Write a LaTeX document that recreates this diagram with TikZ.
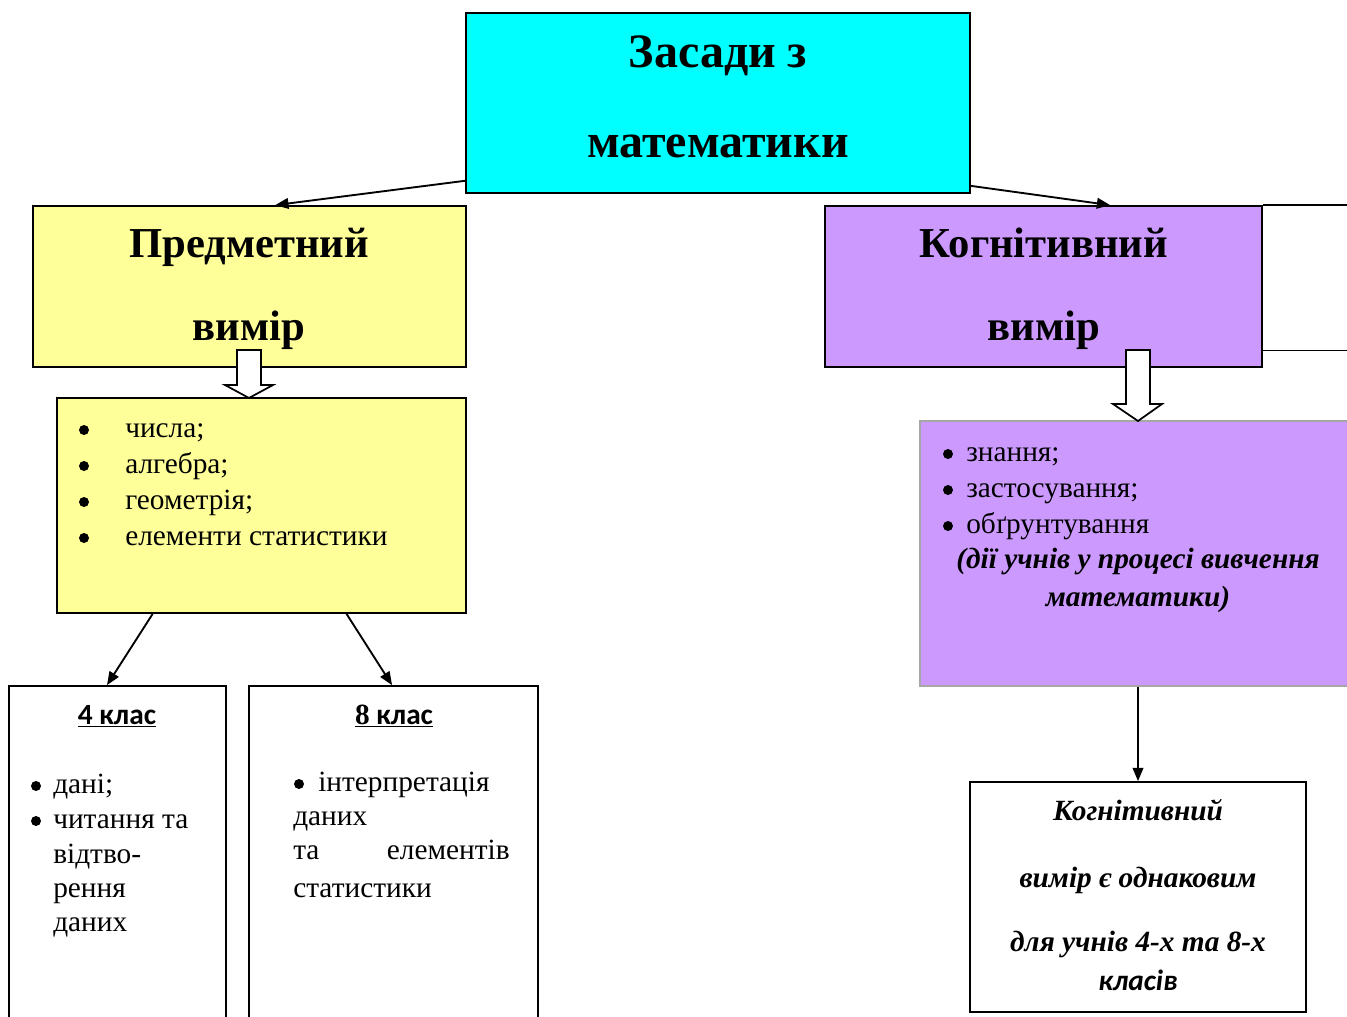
\documentclass[tikz,border=0pt]{standalone}
\usepackage{fontspec}
\setmainfont{Liberation Serif}
\newfontfamily\sansf{Carlito}
\usetikzlibrary{arrows.meta,calc}
\definecolor{cyanbox}{HTML}{00FFFF}
\definecolor{yelbox}{HTML}{FFFF99}
\definecolor{purbox}{HTML}{CC99FF}
\definecolor{grayedge}{HTML}{A6A6A6}
\tikzset{
  box/.style={draw=black, line width=1.3pt, inner sep=0pt},
  arr/.style={line width=1.4pt, -{Triangle[length=10pt,width=8pt]}},
  blockarrow/.style={draw=black, fill=white, line width=1.3pt, line join=miter},
  ttl/.style={font=\fontsize{36}{40}\selectfont\bfseries, inner sep=0pt, anchor=mid},
  hdr/.style={font=\fontsize{32}{36}\selectfont\bfseries, inner sep=0pt, anchor=mid},
  body/.style={font=\fontsize{22}{26}\selectfont, inner sep=0pt, anchor=mid west},
  bul/.style={circle, fill=black, inner sep=0pt, minimum size=7.5pt},
  bi/.style={font=\fontsize{22}{26}\selectfont\bfseries\itshape, inner sep=0pt, anchor=mid},
  cls/.style={font=\fontsize{22}{26}\selectfont\sansf\bfseries, inner sep=0pt, anchor=mid},
}
\begin{document}
\begin{tikzpicture}[x=0.75pt,y=-0.75pt]
\clip (0,0) rectangle (1347,1017);
\fill[white] (0,0) rectangle (1347,1017);

% boxes
\node[box, fill=cyanbox, minimum width=378pt, minimum height=135pt] (top) at (718,103) {};
\node[box, fill=yelbox, minimum width=324.75pt, minimum height=120.75pt] (yel1) at (249.5,286.5) {};
\node[box, fill=purbox, minimum width=327.75pt, minimum height=120.75pt] (pur1) at (1043.5,286.5) {};
\node[box, fill=yelbox, minimum width=306.75pt, minimum height=161.25pt] (yel2) at (261.5,505.5) {};
\node[box, minimum width=162.75pt, minimum height=265.5pt] (k4) at (117.5,863) {};
\node[box, minimum width=216.75pt, minimum height=265.5pt] (k8) at (393.5,863) {};
\node[draw=grayedge, line width=1.2pt, fill=purbox, inner sep=0pt, minimum width=337.5pt, minimum height=198.75pt] (pur2) at (1145,553.5) {};
\node[box, minimum width=252pt, minimum height=172.5pt] (cog) at (1138,897) {};

% partial box edges on the right
\draw[line width=1.3pt] (pur1.north east) -- ++(100,0);
\draw[line width=1.3pt] ($(pur1.north east)!0.894!(pur1.south east)$) -- ++(100,0);

% connectors
\draw[arr] ($(top.south west)!0.072!(top.north west)$) -- ($(yel1.north west)!0.559!(yel1.north east)$);
\draw[arr] ($(top.south east)!0.044!(top.north east)$) -- ($(pur1.north west)!0.652!(pur1.north east)$);
\draw[arr] ($(yel2.south west)!0.235!(yel2.south east)$) -- ($(k4.north west)!0.452!(k4.north east)$);
\draw[arr] ($(yel2.south west)!0.707!(yel2.south east)$) -- ($(k8.north west)!0.495!(k8.north east)$);
\draw[arr] (cog.north |- pur2.south) -- (cog.north);

% block arrows
\draw[blockarrow] (237,350) -- (261,350) -- (261,385) -- (273,385) -- (249,398) -- (225,385) -- (237,385) -- cycle;
\draw[blockarrow] (1126,350) -- (1150,350) -- (1150,404) -- (1162,404) -- (1138,421) -- (1113,404) -- (1126,404) -- cycle;

% texts
\node[ttl] (t1) at (718,64) {Засади з};
\node[ttl] (t2) at (718,154) {математики};
\node[hdr] (h1) at (249,254) {Предметний};
\node[hdr] (h2) at (249,337) {вимір};
\node[hdr] (h3) at (1044,254) {Когнітивний};
\node[hdr] (h4) at (1044,337) {вимір};

\foreach \yy/\tx [count=\i] in {430/числа;, 466/алгебра;, 502/геометрія;, 538/елементи статистики}{
  \node[bul] (yb\i) at (84,\yy) {};
  \node[body] (yt\i) at (125,\yy+4) {\tx};
}

\node[cls] (c4) at (117,721) {\underline{4 клас}};
\node[cls] (c8) at (394,721) {\underline{{\rmfamily 8} клас}};
\node[bul] (b41) at (36,786) {};
\node[body] (t41) at (53,790) {дані;};
\node[bul] (b42) at (36,821) {};
\node[body] (t42) at (53,825) {читання та};
\node[body] (t43) at (53,860) {відтво-};
\node[body] (t44) at (53,894) {рення};
\node[body] (t45) at (53,928) {даних};

\node[bul] (b81) at (299,784) {};
\node[body] (t81) at (318,788) {інтерпретація};
\node[body] (t82) at (293,822) {даних};
\node[body] (t83) at (293,856) {та};
\node[body, anchor=mid east] (t84) at (510,856) {елементів};
\node[body] (t85) at (293,894) {статистики};

\foreach \yy/\tx [count=\i] in {454/знання;, 490/застосування;, 526/обґрунтування}{
  \node[bul] (pb\i) at (948,\yy) {};
  \node[body] (pt\i) at (966,\yy+4) {\tx};
}
\node[bi] (pi1) at (1138,565) {(дії учнів у процесі вивчення};
\node[bi] (pi2) at (1138,603) {математики)};

\node[bi] (g1) at (1138,817) {Когнітивний};
\node[bi] (g2) at (1138,884) {вимір є однаковим};
\node[bi] (g3) at (1138,948) {для учнів 4-х та 8-х};
\node[cls, font=\fontsize{22}{26}\selectfont\sansf\bfseries\itshape] (g4) at (1138,987) {класів};
\end{tikzpicture}
\end{document}
